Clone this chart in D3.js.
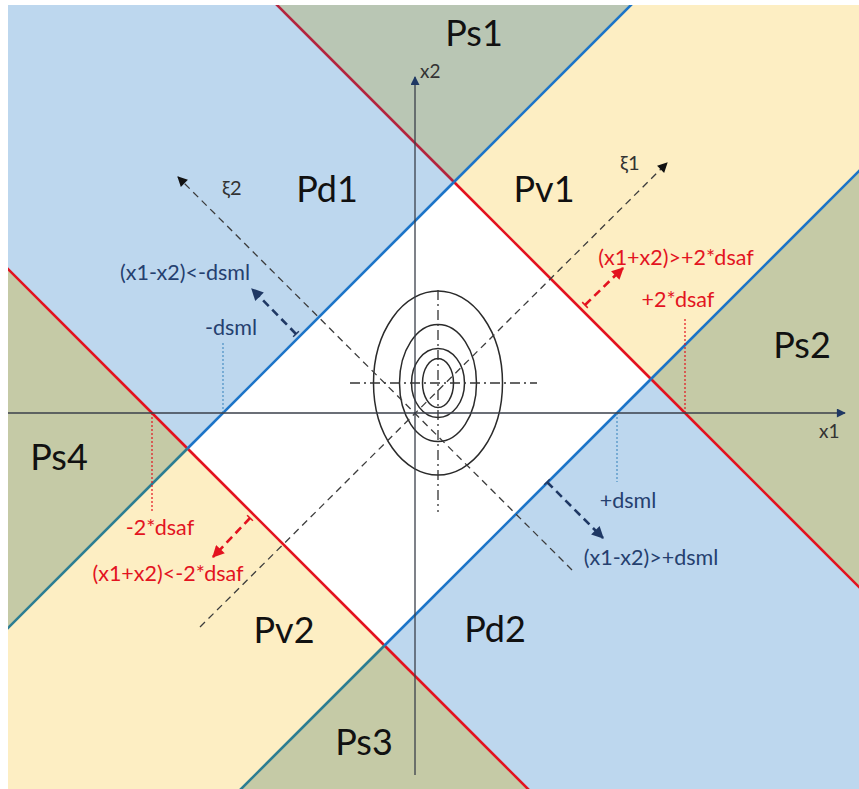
<!DOCTYPE html>
<html>
<head>
<meta charset="utf-8">
<script src="https://cdn.jsdelivr.net/npm/d3@7/dist/d3.min.js"></script>
<style>
  html, body { margin: 0; padding: 0; background: #ffffff; }
  svg { display: block; }
  text { font-family: Lato, "Open Sans", "DejaVu Sans", sans-serif; }
</style>
</head>
<body>
<svg id="chart" width="859" height="789"></svg>
<script>
// ---- Thresholds of the decision plane (x1, x2 units) ----
const sumLimits  = [-263, 270];   // x1+x2 = -2*dsaf, +2*dsaf
const diffLimits = [-192, 202];   // x1-x2 = -dsml, +dsml
const frameX1 = [-407, 444];
const frameX2 = [-376, 408];

// ---- Regions: band of (x1+x2) and band of (x1-x2) ----
const regionNames = ["", "Pd1", "Pd2", "Pv1", "Pv2", "Ps1", "Ps2", "Ps3", "Ps4"];
const regionSumBand  = ["mid", "mid", "mid", "hi", "lo", "hi", "hi", "lo", "lo"];
const regionDiffBand = ["mid", "lo", "hi", "mid", "mid", "lo", "hi", "hi", "lo"];
const regionFill = ["#ffffff", "#bdd7ee", "#bdd7ee", "#fdeec3", "#fdeec3", "#b9c6b4", "#c5caa6", "#c5caa6", "#c5caa6"];
const regionLabelPos = [null, [-88, 211], [80, -229], [129, 211], [-131, -230], [59, 367], [387, 55], [-51, -342], [-356, -57]];

// ---- Boundary segment colours (per crossing band of the other quantity: lo, mid, hi) ----
const sumLineColors  = { lo: ["#e3121f", "#e3121f", "#e3121f"], hi: ["#b3243e", "#e3121f", "#e3121f"] };
const diffLineColors = { lo: ["#2c7d92", "#1c74c8", "#1c74c8"], hi: ["#2c7d92", "#1c74c8", "#1c74c8"] };

// ---- Concentric ellipses (centre and radii) ----
const ellipseCenter = [23, 30];
const ellipseRadii = [[64.5, 92], [38.5, 58.5], [26.5, 34.5], [15.5, 24.5]];

// ---- Threshold markers on the x1 axis ----
const markerX1 = [270, -263, -192, 202];
const markerTop = [95, -99, 71, -69];
const markerColor = ["#e3121f", "#e3121f", "#4a8fc4", "#4a8fc4"];
const markerText = ["+2*dsaf", "-2*dsaf", "-dsml", "+dsml"];

// ---- Direction arrows ----
const arrowBase = [[170, 108], [-165, -105], [-119, 79], [132, -69]];
const arrowTip  = [[208, 145], [-202, -144], [-163, 124], [188, -125]];
const arrowColor = ["#e3121f", "#e3121f", "#1f3864", "#1f3864"];
const conditionText = ["(x1+x2)>+2*dsaf", "(x1+x2)<-2*dsaf", "(x1-x2)<-dsml", "(x1-x2)>+dsml"];

const svg = d3.select("#chart");
const x = d3.scaleLinear().domain(frameX1).range([8, 859]);
const y = d3.scaleLinear().domain(frameX2).range([789, 5]);
const P = p => [x(p[0]), y(p[1])];

const defs = svg.append("defs");
defs.append("clipPath").attr("id", "frame")
  .append("rect")
  .attr("x", x(frameX1[0])).attr("y", y(frameX2[1]))
  .attr("width", x(frameX1[1]) - x(frameX1[0]))
  .attr("height", y(frameX2[0]) - y(frameX2[1]));

function addMarker(id, color, w, h) {
  defs.append("marker").attr("id", id)
    .attr("viewBox", "0 0 10 10").attr("refX", 9).attr("refY", 5)
    .attr("markerUnits", "userSpaceOnUse")
    .attr("markerWidth", w).attr("markerHeight", h)
    .attr("orient", "auto")
    .append("path").attr("d", "M0,0 L10,5 L0,10 Z").attr("fill", color);
}
addMarker("head-axis", "#1f3864", 11, 9);
addMarker("head-xi", "#111111", 12, 10);
addMarker("head-red", "#e3121f", 14, 12);
addMarker("head-navy", "#1f3864", 14, 12);

// ---- Half-plane clipping of the frame into region polygons ----
function clipHalf(poly, a, b, c) {          // keep a*x1 + b*x2 <= c
  const out = [];
  for (let i = 0; i < poly.length; i++) {
    const cur = poly[i], prev = poly[(i + poly.length - 1) % poly.length];
    const fc = a * cur[0] + b * cur[1] - c, fp = a * prev[0] + b * prev[1] - c;
    const cross = () => {
      const t = fp / (fp - fc);
      return [prev[0] + t * (cur[0] - prev[0]), prev[1] + t * (cur[1] - prev[1])];
    };
    if (fc <= 0) { if (fp > 0) out.push(cross()); out.push(cur); }
    else if (fp <= 0) out.push(cross());
  }
  return out;
}
function bandConstraints(band, limits, a, b) {
  if (band === "lo") return [[a, b, limits[0]]];
  if (band === "hi") return [[-a, -b, -limits[1]]];
  return [[-a, -b, -limits[0]], [a, b, limits[1]]];
}
const framePoly = [[frameX1[0], frameX2[0]], [frameX1[1], frameX2[0]], [frameX1[1], frameX2[1]], [frameX1[0], frameX2[1]]];

const gFill = svg.append("g");
regionNames.forEach((name, i) => {
  let poly = framePoly;
  bandConstraints(regionSumBand[i], sumLimits, 1, 1)
    .concat(bandConstraints(regionDiffBand[i], diffLimits, 1, -1))
    .forEach(([a, b, c]) => { poly = clipHalf(poly, a, b, c); });
  gFill.append("path")
    .attr("d", d3.line()(poly.map(P)) + "Z")
    .attr("fill", regionFill[i]);
});

// ---- Boundary lines ----
const gLines = svg.append("g").attr("clip-path", "url(#frame)");
const far = 3000;
function bandRanges(limits) { return [[-far, limits[0]], [limits[0], limits[1]], [limits[1], far]]; }
[["lo", sumLimits[0]], ["hi", sumLimits[1]]].forEach(([key, c]) => {
  bandRanges(diffLimits).forEach((r, j) => {
    const pts = r.map(d => [(c + d) / 2, (c - d) / 2]);
    gLines.append("path").attr("d", d3.line()(pts.map(P)))
      .attr("stroke", sumLineColors[key][j]).attr("stroke-width", 2.6).attr("fill", "none");
  });
});
[["lo", diffLimits[0]], ["hi", diffLimits[1]]].forEach(([key, c]) => {
  bandRanges(sumLimits).forEach((r, j) => {
    const pts = r.map(s => [(s + c) / 2, (s - c) / 2]);
    gLines.append("path").attr("d", d3.line()(pts.map(P)))
      .attr("stroke", diffLineColors[key][j]).attr("stroke-width", 2.6).attr("fill", "none");
  });
});

// ---- Dotted threshold markers ----
markerX1.forEach((v, i) => {
  svg.append("line")
    .attr("x1", x(v)).attr("y1", y(0)).attr("x2", x(v)).attr("y2", y(markerTop[i]))
    .attr("stroke", markerColor[i]).attr("stroke-width", 1.2).attr("stroke-dasharray", "2,2");
});

// ---- Concentric ellipses ----
const gEll = svg.append("g");
ellipseRadii.forEach(r => {
  gEll.append("ellipse")
    .attr("cx", x(ellipseCenter[0])).attr("cy", y(ellipseCenter[1]))
    .attr("rx", x(r[0]) - x(0)).attr("ry", y(0) - y(r[1]))
    .attr("fill", "none").attr("stroke", "#2a2a2a").attr("stroke-width", 1.5);
});
// centre lines of the ellipses (dash-dot)
gEll.append("line")
  .attr("x1", x(-65)).attr("x2", x(122)).attr("y1", y(ellipseCenter[1])).attr("y2", y(ellipseCenter[1]))
  .attr("stroke", "#333").attr("stroke-width", 1.3).attr("stroke-dasharray", "10,4,2,4");
gEll.append("line")
  .attr("x1", x(ellipseCenter[0])).attr("x2", x(ellipseCenter[0])).attr("y1", y(123)).attr("y2", y(-99))
  .attr("stroke", "#333").attr("stroke-width", 1.3).attr("stroke-dasharray", "10,4,2,4");

// ---- Rotated axes ξ1, ξ2 ----
const xiFrom = [[-215, -214], [157, -157]];
const xiTo   = [[252, 250], [-237, 236]];
const xiName = ["ξ1", "ξ2"];
const xiLabelPos = [[205, 243], [-193, 218]];
xiFrom.forEach((f, i) => {
  svg.append("line")
    .attr("x1", x(f[0])).attr("y1", y(f[1])).attr("x2", x(xiTo[i][0])).attr("y2", y(xiTo[i][1]))
    .attr("stroke", "#3c3c3c").attr("stroke-width", 1.3).attr("stroke-dasharray", "7,5")
    .attr("marker-end", "url(#head-xi)");
  svg.append("text").attr("x", x(xiLabelPos[i][0])).attr("y", y(xiLabelPos[i][1]))
    .attr("font-size", 20).attr("fill", "#333").text(xiName[i]);
});

// ---- Main axes x1, x2 ----
svg.append("line").attr("x1", x(frameX1[0])).attr("y1", y(0)).attr("x2", x(430)).attr("y2", y(0))
  .attr("stroke", "#3a3f4a").attr("stroke-width", 1.3).attr("marker-end", "url(#head-axis)");
svg.append("line").attr("x1", x(0)).attr("y1", y(-362)).attr("x2", x(0)).attr("y2", y(336))
  .attr("stroke", "#3a3f4a").attr("stroke-width", 1.3).attr("marker-end", "url(#head-axis)");
svg.append("text").attr("x", x(404)).attr("y", y(-25)).attr("font-size", 19).attr("fill", "#333").text("x1");
svg.append("text").attr("x", x(5)).attr("y", y(335)).attr("font-size", 19).attr("fill", "#333").text("x2");

// ---- Direction arrows ----
arrowBase.forEach((b, i) => {
  const t = arrowTip[i];
  const red = i < 2;
  svg.append("line")
    .attr("x1", x(b[0])).attr("y1", y(b[1])).attr("x2", x(t[0])).attr("y2", y(t[1]))
    .attr("stroke", arrowColor[i]).attr("stroke-width", 2.6).attr("stroke-dasharray", "8,5")
    .attr("marker-end", red ? "url(#head-red)" : "url(#head-navy)");
  // small foot tick across the base of the arrow
  const dx = t[0] - b[0], dy = t[1] - b[1], L = Math.hypot(dx, dy);
  const nx = -dy / L * 4, ny = dx / L * 4;
  svg.append("line")
    .attr("x1", x(b[0] + nx)).attr("y1", y(b[1] + ny)).attr("x2", x(b[0] - nx)).attr("y2", y(b[1] - ny))
    .attr("stroke", arrowColor[i]).attr("stroke-width", 1.5);
});

// ---- Condition and threshold labels ----
const conditionPos = [[261, 148], [-247, -168], [-230, 133], [236, -152]];
const markerLabelPos = [[263, 106], [-255, -122], [-184, 78], [213, -95]];
const textColor = ["#e3141f", "#e3141f", "#25406f", "#25406f"];
conditionText.forEach((t, i) => {
  svg.append("text").attr("x", x(conditionPos[i][0])).attr("y", y(conditionPos[i][1]))
    .attr("text-anchor", "middle").attr("font-size", 21.5).attr("fill", textColor[i]).text(t);
});
markerText.forEach((t, i) => {
  svg.append("text").attr("x", x(markerLabelPos[i][0])).attr("y", y(markerLabelPos[i][1]))
    .attr("text-anchor", "middle").attr("font-size", 21.5).attr("fill", textColor[i]).text(t);
});

// ---- Region names ----
regionNames.forEach((name, i) => {
  if (!name) return;
  svg.append("text").attr("x", x(regionLabelPos[i][0])).attr("y", y(regionLabelPos[i][1]))
    .attr("text-anchor", "middle").attr("font-size", 36).attr("fill", "#111").text(name);
});
</script>
</body>
</html>
